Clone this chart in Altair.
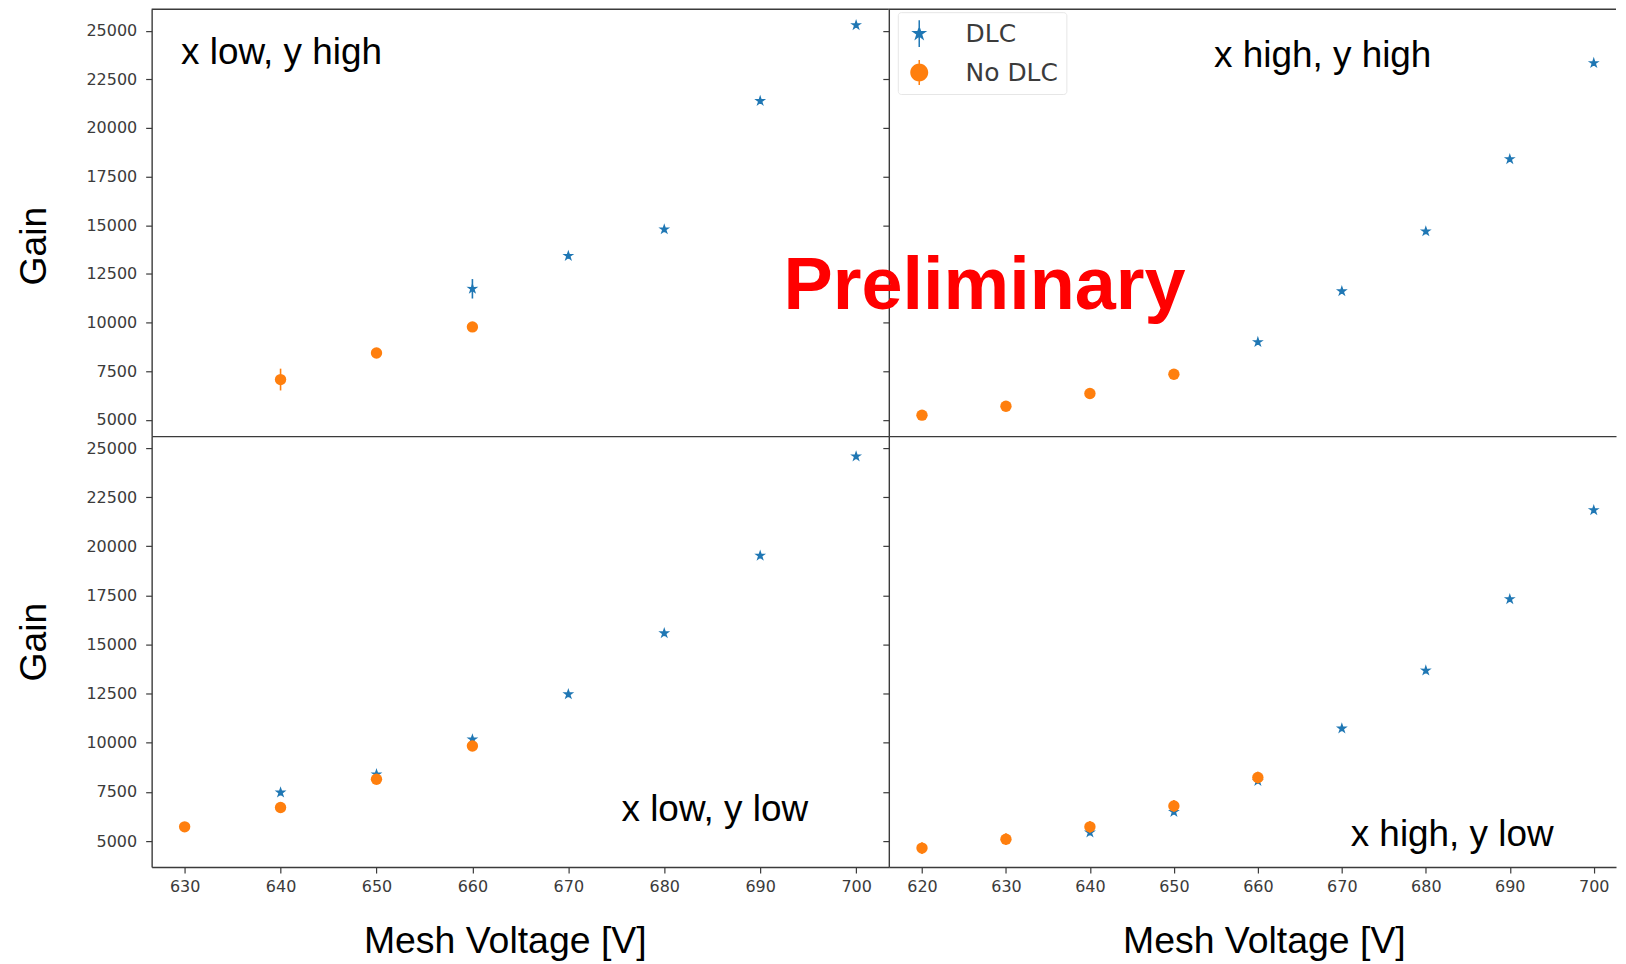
import altair as alt
import pandas as pd

# ---------------- data ----------------
SERIES = ["DLC", "No DLC"]
COLORS = ["#1f77b4", "#ff7f0e"]

# top-left panel: "x low, y high"
TL_DLC_V = [660, 670, 680, 690, 700]
TL_DLC_G = [11735, 13426, 14790, 21386, 25282]
TL_DLC_E = [500, 150, 150, 150, 150]
TL_NO_V = [640, 650, 660]
TL_NO_G = [7071, 8434, 9777]
TL_NO_E = [560, 150, 150]

# top-right panel: "x high, y high"
TR_DLC_V = [660, 670, 680, 690, 700]
TR_DLC_G = [8998, 11612, 14687, 18398, 23334]
TR_DLC_E = [150, 150, 150, 150, 150]
TR_NO_V = [620, 630, 640, 650]
TR_NO_G = [5241, 5702, 6353, 7342]
TR_NO_E = [250, 250, 250, 250]

# bottom-left panel: "x low, y low"
BL_DLC_V = [640, 650, 660, 670, 680, 690, 700]
BL_DLC_G = [7472, 8400, 10178, 12472, 15579, 19528, 24579]
BL_DLC_E = [150, 150, 150, 150, 150, 150, 150]
BL_NO_V = [630, 640, 650, 660]
BL_NO_G = [5726, 6711, 8147, 9838]
BL_NO_E = [200, 200, 200, 200]

# bottom-right panel: "x high, y low"
BR_DLC_V = [640, 650, 660, 670, 680, 690, 700]
BR_DLC_G = [5440, 6487, 8061, 10736, 13680, 17315, 21843]
BR_DLC_E = [150, 150, 150, 150, 150, 150, 150]
BR_NO_V = [620, 630, 640, 650, 660]
BR_NO_G = [4645, 5100, 5726, 6792, 8234]
BR_NO_E = [300, 300, 300, 300, 300]

NOTES = ["x low, y high", "x high, y high", "x low, y low", "x high, y low"]
WATERMARK = ["Preliminary"]
Y_TICKS = [5000, 7500, 10000, 12500, 15000, 17500, 20000, 22500, 25000]
X_TICKS_LEFT = [630, 640, 650, 660, 670, 680, 690, 700]
X_TICKS_RIGHT = [620, 630, 640, 650, 660, 670, 680, 690, 700]
X_TITLE = "Mesh Voltage [V]"
Y_TITLE = "Gain"

# ---------------- styling ----------------
STAR = ("M0,-1L0.224,-0.308L0.951,-0.309L0.362,0.118L0.588,0.809L0,0.381"
        "L-0.588,0.809L-0.362,0.118L-0.951,-0.309L-0.224,-0.308Z")
STAR_BAR = ("M0,-0.623L0.14,-0.192L0.593,-0.193L0.226,0.073L0.366,0.504L0,0.238"
            "L-0.366,0.504L-0.226,0.073L-0.593,-0.193L-0.14,-0.192Z"
            "M-0.055,-1L0.055,-1L0.055,1L-0.055,1Z")
CIRC_BAR = ("M-0.667,0A0.667,0.667 0 1,1 0.667,0A0.667,0.667 0 1,1 -0.667,0Z"
            "M-0.055,-0.93L0.055,-0.93L0.055,0.93L-0.055,0.93Z")

INK = "#3b3b3b"
AX = dict(labelFont="DejaVu Sans", labelFontSize=16, labelColor=INK,
          tickColor=INK, tickSize=6, tickWidth=1.2, domainColor=INK,
          domainWidth=1.4, grid=False, labelFlush=False, labelOverlap=False,
          titleFont="Liberation Sans", titleFontSize=37.5,
          titleFontWeight="normal", titleColor="black")
NOTE_SIZE = 37

W_LEFT, W_RIGHT = 739, 729
H_TOP, H_BOT = 428, 432
XDOM_LEFT = [626.56, 703.41]
XDOM_RIGHT = [616.05, 702.65]
YDOM_TOP = [4165, 26102]
YDOM_BOT = [3680, 25609]


def frame(v, g, e):
    return pd.DataFrame({"voltage": v, "gain": g, "err": e})


def panel(dlc, nodlc, xdom, ydom, xticks, w, h, left, bottom,
          note, note_xy, ytitle_y=0, xtitle_x=0, extra=()):
    if bottom:
        xaxis = alt.Axis(values=xticks, format="d", labelPadding=6,
                         title=X_TITLE, titleX=xtitle_x, titleY=86,
                         titleBaseline="alphabetic", titleAlign="center", **AX)
    else:
        xaxis = alt.Axis(labels=False, ticks=False, title="", **AX)
    if left:
        yaxis = alt.Axis(values=Y_TICKS, format="d", labelPadding=9,
                         title=Y_TITLE, titleX=-106.5, titleY=ytitle_y,
                         titleAngle=270, titleBaseline="alphabetic",
                         titleAlign="center", **AX)
    else:
        yaxis = alt.Axis(values=Y_TICKS, labels=False, title="", **AX)

    xs = alt.Scale(domain=xdom, nice=False, zero=False)
    ys = alt.Scale(domain=ydom, nice=False, zero=False)

    def X():
        return alt.X("voltage:Q", scale=xs, axis=xaxis)

    def Y(field):
        return alt.Y(field, scale=ys, axis=yaxis)

    layers = []
    for df, color, shape, size in ((dlc, COLORS[0], STAR, 155),
                                   (nodlc, COLORS[1], "circle", 130)):
        base = alt.Chart(df)
        err = base.transform_calculate(
            lo="datum.gain - datum.err", hi="datum.gain + datum.err"
        ).mark_rule(color=color, strokeWidth=1.6).encode(
            x=X(), y=Y("lo:Q"), y2="hi:Q")
        pts = base.mark_point(shape=shape, filled=True, size=size,
                              color=color, opacity=1, strokeWidth=0).encode(
            x=X(), y=Y("gain:Q"))
        layers += [err, pts]

    txt = alt.Chart(pd.DataFrame({"t": [note]})).mark_text(
        align="left", baseline="alphabetic", font="Liberation Sans",
        fontSize=NOTE_SIZE, color="black").encode(
        x=alt.value(note_xy[0]), y=alt.value(note_xy[1]), text="t:N")
    layers.append(txt)
    if not bottom:
        top_line = alt.Chart(pd.DataFrame({"a": [0]})).mark_rule(
            color=INK, strokeWidth=1.4).encode(
            x=alt.value(0), x2=alt.value(w), y=alt.value(0))
        layers.append(top_line)
    layers += list(extra)
    return alt.layer(*layers).properties(width=w, height=h)


# legend (only symbols, no drawn marks) and watermark for top-right panel
legend = alt.Legend(title=None, orient="none", legendX=9, legendY=3,
                    labelFont="DejaVu Sans", labelFontSize=25, labelColor=INK,
                    labelOffset=33, symbolSize=729, symbolStrokeWidth=0,
                    symbolOpacity=1, rowPadding=12, padding=8,
                    strokeColor="#e6e6e6", fillColor="white", cornerRadius=3)
legend_layer = alt.Chart(pd.DataFrame({"series": SERIES})).transform_filter(
    "false").mark_point(filled=True).encode(
    color=alt.Color("series:N", scale=alt.Scale(domain=SERIES, range=COLORS),
                    legend=legend),
    shape=alt.Shape("series:N",
                    scale=alt.Scale(domain=SERIES, range=[STAR_BAR, CIRC_BAR]),
                    legend=legend))
prelim = alt.Chart(pd.DataFrame({"t": WATERMARK})).mark_text(
    align="center", baseline="alphabetic", font="Liberation Sans",
    fontSize=74, fontWeight="bold", color="#ff0000").encode(
    x=alt.value(96), y=alt.value(301), text="t:N")

tl = panel(frame(TL_DLC_V, TL_DLC_G, TL_DLC_E), frame(TL_NO_V, TL_NO_G, TL_NO_E),
           XDOM_LEFT, YDOM_TOP, X_TICKS_LEFT, W_LEFT, H_TOP, True, False,
           NOTES[0], (29.5, 55), ytitle_y=237)
tr = panel(frame(TR_DLC_V, TR_DLC_G, TR_DLC_E), frame(TR_NO_V, TR_NO_G, TR_NO_E),
           XDOM_RIGHT, YDOM_TOP, X_TICKS_RIGHT, W_RIGHT, H_TOP, False, False,
           NOTES[1], (326, 58), extra=(legend_layer, prelim))
bl = panel(frame(BL_DLC_V, BL_DLC_G, BL_DLC_E), frame(BL_NO_V, BL_NO_G, BL_NO_E),
           XDOM_LEFT, YDOM_BOT, X_TICKS_LEFT, W_LEFT, H_BOT, True, True,
           NOTES[2], (471, 385.7), ytitle_y=206, xtitle_x=354)
br = panel(frame(BR_DLC_V, BR_DLC_G, BR_DLC_E), frame(BR_NO_V, BR_NO_G, BR_NO_E),
           XDOM_RIGHT, YDOM_BOT, X_TICKS_RIGHT, W_RIGHT, H_BOT, False, True,
           NOTES[3], (463, 410.7), xtitle_x=376)

chart = alt.concat(tl, tr, bl, br, columns=2, spacing=0, bounds="flush").resolve_scale(
    color="independent", shape="independent"
).resolve_legend(
    color="independent", shape="independent"
).properties(
    padding={"left": 7, "top": -2, "right": 0, "bottom": 0},
    background="white",
).configure_view(stroke="transparent")

chart.save("out.html", embed_options={"renderer": "svg", "actions": False})
